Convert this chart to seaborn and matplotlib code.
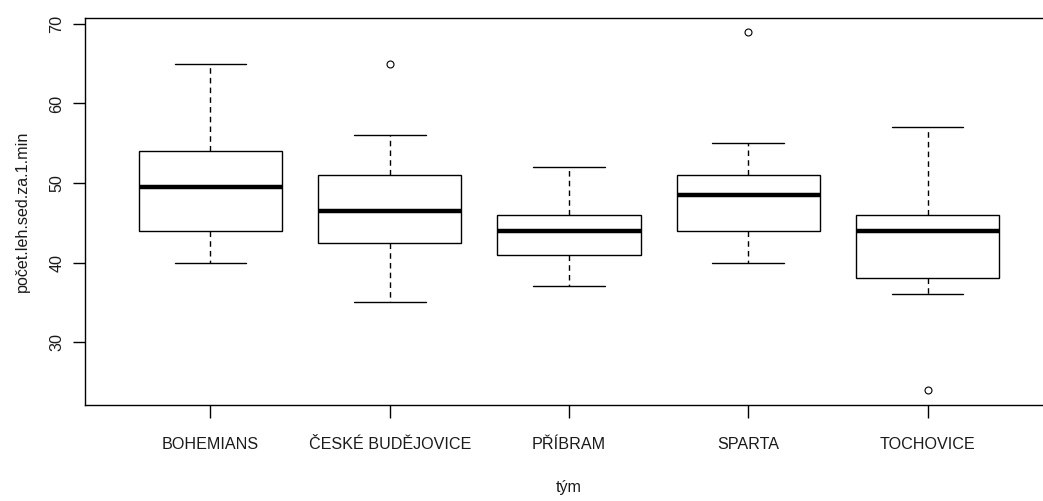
import matplotlib
matplotlib.use("Agg")
import matplotlib.pyplot as plt
import seaborn as sns
import pandas as pd

teams = ["BOHEMIANS", "ČESKÉ BUDĚJOVICE", "PŘÍBRAM", "SPARTA", "TOCHOVICE"]
bohemians = [40, 42, 44, 47, 49.5, 52, 54, 60, 65]
ceske_budejovice = [35, 40, 42.5, 45, 46.5, 49, 51, 56, 65]
pribram = [37, 39, 41, 43, 44, 45, 46, 49, 52]
sparta = [40, 42, 44, 47, 48.5, 50, 51, 55, 69]
tochovice = [24, 36, 38, 41, 44, 45, 46, 52, 57]
yticks = [30, 40, 50, 60, 70]

values = [bohemians, ceske_budejovice, pribram, sparta, tochovice]
df = pd.DataFrame({
    "tým": [t for t, v in zip(teams, values) for _ in v],
    "val": [x for v in values for x in v],
})

sns.set_theme(style="ticks")
plt.rcParams["font.family"] = ["Liberation Sans", "DejaVu Sans"]

fig = plt.figure(figsize=(10.43, 5.01), dpi=100)
ax = fig.add_axes([85 / 1043, (501 - 405) / 501, (1053 - 85) / 1043, 387 / 501])

sns.boxplot(
    data=df, x="tým", y="val", order=teams, ax=ax,
    color="white", linecolor="black", linewidth=1.0, width=0.8, whis=1.5,
    fill=True,
    flierprops=dict(marker="o", markerfacecolor="none", markeredgecolor="black",
                    markersize=5, markeredgewidth=0.8),
    medianprops=dict(linewidth=3.2, color="black", solid_capstyle="butt"),
    whiskerprops=dict(linestyle=(0, (4, 3)), color="black", linewidth=1.0),
    capprops=dict(color="black", linewidth=1.0),
    boxprops=dict(edgecolor="black", facecolor="white", linewidth=1.0),
    capwidths=0.4,
)

txt = "#1a1a1a"
ax.set_xlim(-0.7, 4.7)
ax.set_ylim(22.08, 70.75)
ax.set_yticks(yticks)
ax.set_yticklabels([str(t) for t in yticks], rotation=90, va="center")
ax.tick_params(axis="both", length=9, width=1.0, color="black", labelsize=11.6,
               labelcolor=txt)
ax.tick_params(axis="y", pad=6)
ax.tick_params(axis="x", pad=14)
for s in ax.spines.values():
    s.set_visible(True)
    s.set_color("black")
    s.set_linewidth(1.0)

ax.set_xlabel("tým", fontsize=11.6, color=txt, labelpad=20)
ax.set_ylabel("počet.leh.sed.za.1.min", fontsize=11.6, color=txt, labelpad=14)

fig.savefig("out.png", dpi=100, facecolor="white")
